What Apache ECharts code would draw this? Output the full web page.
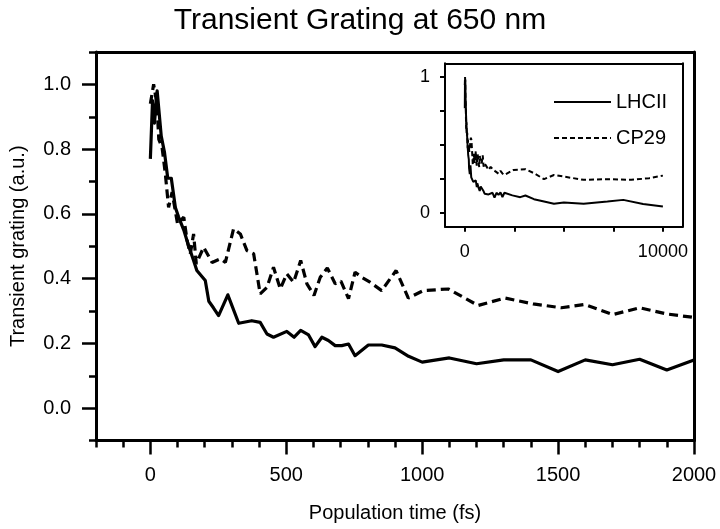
<!DOCTYPE html>
<html>
<head>
<meta charset="utf-8">
<script src="https://cdn.jsdelivr.net/npm/echarts@6/dist/echarts.min.js"></script>
<style>html,body{margin:0;padding:0;background:#fff}#c{width:720px;height:529px}</style>
</head>
<body>
<div id="c"></div>
<script>
// ---- data ----
var title = 'Transient Grating at 650 nm';
var xName = 'Population time (fs)';
var yName = 'Transient grating (a.u.)';
var seriesNames = ['LHCII', 'CP29'];

// main panel, LHCII (solid)
var lhciiT = [0, 8, 15, 25, 40, 52, 64, 77, 92, 104, 123, 141, 159, 171, 202, 215, 232, 251, 285, 325, 373, 404, 429, 453, 502, 529, 553, 582, 606, 631, 655, 680, 704, 729, 753, 802, 851, 900, 950, 1000, 1100, 1200, 1300, 1400, 1500, 1600, 1700, 1800, 1900, 2000];
var lhciiV = [0.77, 0.95, 0.88, 0.98, 0.84, 0.79, 0.71, 0.71, 0.62, 0.59, 0.55, 0.50, 0.456, 0.425, 0.394, 0.33, 0.31, 0.286, 0.35, 0.262, 0.27, 0.265, 0.229, 0.219, 0.237, 0.219, 0.24, 0.226, 0.19, 0.219, 0.209, 0.193, 0.193, 0.198, 0.162, 0.195, 0.195, 0.186, 0.16, 0.142, 0.155, 0.137, 0.149, 0.149, 0.113, 0.149, 0.134, 0.151, 0.118, 0.149];

// main panel, CP29 (dashed)
var cp29T = [0, 12, 24, 31, 43, 55, 67, 80, 100, 123, 135, 147, 159, 169, 196, 227, 257, 276, 306, 331, 355, 380, 404, 429, 453, 478, 502, 527, 553, 576, 602, 625, 651, 680, 701, 729, 753, 778, 808, 851, 904, 949, 1004, 1096, 1206, 1304, 1408, 1512, 1598, 1702, 1800, 1898, 2000];
var cp29V = [0.94, 1.0, 0.94, 0.83, 0.806, 0.724, 0.62, 0.667, 0.569, 0.59, 0.518, 0.477, 0.538, 0.446, 0.497, 0.45, 0.461, 0.45, 0.554, 0.538, 0.487, 0.477, 0.353, 0.373, 0.435, 0.368, 0.415, 0.389, 0.456, 0.384, 0.348, 0.404, 0.433, 0.384, 0.392, 0.338, 0.42, 0.404, 0.389, 0.363, 0.425, 0.34, 0.363, 0.368, 0.317, 0.34, 0.322, 0.31, 0.32, 0.289, 0.31, 0.291, 0.28];

// inset, long-time tail beyond 2000 fs
var lhciiLongT = [2400, 2800, 3060, 3490, 4000, 4500, 5000, 6000, 7200, 8000, 9000, 10000];
var lhciiLongV = [0.13, 0.117, 0.129, 0.102, 0.085, 0.068, 0.078, 0.068, 0.085, 0.097, 0.066, 0.048];
var cp29LongT = [2460, 3060, 3490, 4000, 4500, 5000, 6000, 7200, 8400, 9300, 10000];
var cp29LongV = [0.317, 0.322, 0.293, 0.249, 0.28, 0.268, 0.244, 0.249, 0.244, 0.256, 0.275];

// axis tick values
var mainXMajor = [0, 500, 1000, 1500, 2000];
var mainXMinor = [-200, -100, 100, 200, 300, 400, 600, 700, 800, 900, 1100, 1200, 1300, 1400, 1600, 1700, 1800, 1900];
var mainYMajor = [0.0, 0.2, 0.4, 0.6, 0.8, 1.0];
var mainYMinor = [-0.1, 0.1, 0.3, 0.5, 0.7, 0.9, 1.1];
var insetXTicks = [0, 2500, 5000, 7500, 10000];
var insetXLabels = [0, 10000];
var insetYTicks = [0, 0.25, 0.5, 0.75, 1];
var insetYLabels = [0, 1];

function pairs(t, v) { return t.map(function (x, i) { return [x, v[i]]; }); }

var mainL = pairs(lhciiT, lhciiV);
var mainC = pairs(cp29T, cp29V);
var insetL = mainL.concat(pairs(lhciiLongT, lhciiLongV));
var insetC = mainC.concat(pairs(cp29LongT, cp29LongV));

var FONT = 'Liberation Sans';
var black = '#000';

var xMin = -200, xMax = 2000, yMin = -0.1, yMax = 1.1;
var ixMin = -1000, ixMax = 11000;

function ax(extra) {
  return Object.assign({
    type: 'value', splitLine: {show: false},
    axisTick: {show: false}, axisLabel: {show: false},
    axisLine: {show: false, onZero: false}
  }, extra);
}
function line(w) { return {show: true, onZero: false, lineStyle: {color: black, width: w}}; }
function ticks(vals, len, w) { return {show: true, customValues: vals, length: len, lineStyle: {color: black, width: w}}; }

var chart = echarts.init(document.getElementById('c'), null, {renderer: 'canvas'});
chart.setOption({
  backgroundColor: '#fff',
  animation: false,
  title: {
    text: title, left: 'center', top: 1,
    textStyle: {fontFamily: FONT, fontSize: 30, fontWeight: 'normal', color: black}
  },
  legend: {
    data: seriesNames,
    orient: 'vertical', left: 548, top: 87,
    itemWidth: 57, itemHeight: 14, itemGap: 16,
    itemStyle: {opacity: 0},
    textStyle: {fontFamily: FONT, fontSize: 20, color: black},
    selectedMode: false
  },
  grid: [
    {left: 95, right: 26, top: 52, bottom: 88.5},
    {left: 445, right: 37.3, top: 63.3, bottom: 302.3}
  ],
  xAxis: [
    ax({gridIndex: 0, position: 'bottom', min: xMin, max: xMax, axisLine: line(3),
      axisTick: ticks(mainXMinor, 7, 2.5),
      name: xName, nameLocation: 'middle', nameGap: 63,
      nameTextStyle: {fontFamily: FONT, fontSize: 20, color: black}}),
    ax({gridIndex: 0, position: 'top', min: xMin, max: xMax, axisLine: line(3)}),
    ax({gridIndex: 0, position: 'bottom', min: xMin, max: xMax,
      axisTick: ticks(mainXMajor, 14, 2.5),
      axisLabel: {show: true, customValues: mainXMajor, margin: 25, fontFamily: FONT, fontSize: 20, color: black,
        formatter: function (v) { return String(v); }}}),
    ax({gridIndex: 1, position: 'bottom', min: ixMin, max: ixMax, axisLine: line(2),
      axisTick: ticks(insetXTicks, 5, 2),
      axisLabel: {show: true, customValues: insetXLabels, margin: 16, fontFamily: FONT, fontSize: 18, color: black,
        formatter: function (v) { return String(v); }}}),
    ax({gridIndex: 1, position: 'top', min: ixMin, max: ixMax, axisLine: line(2)})
  ],
  yAxis: [
    ax({gridIndex: 0, position: 'left', min: yMin, max: yMax, axisLine: line(3),
      axisTick: ticks(mainYMinor, 7, 2.5),
      name: yName, nameLocation: 'middle', nameGap: 68,
      nameTextStyle: {fontFamily: FONT, fontSize: 20, color: black}}),
    ax({gridIndex: 0, position: 'right', min: yMin, max: yMax, axisLine: line(3)}),
    ax({gridIndex: 0, position: 'left', min: yMin, max: yMax,
      axisTick: ticks(mainYMajor, 14, 2.5),
      axisLabel: {show: true, customValues: mainYMajor, margin: 25, fontFamily: FONT, fontSize: 20, color: black,
        formatter: function (v) { return v.toFixed(1); }}}),
    ax({gridIndex: 1, position: 'left', min: yMin, max: yMax, axisLine: line(2),
      axisTick: ticks(insetYTicks, 5, 2),
      axisLabel: {show: true, customValues: insetYLabels, margin: 15, fontFamily: FONT, fontSize: 18, color: black,
        formatter: function (v) { return String(v); }}}),
    ax({gridIndex: 1, position: 'right', min: yMin, max: yMax, axisLine: line(2)})
  ],
  series: [
    {name: seriesNames[0], type: 'line', xAxisIndex: 3, yAxisIndex: 3, data: insetL,
      symbol: 'none', lineStyle: {color: black, width: 2, type: 'solid'}, itemStyle: {color: black}},
    {name: seriesNames[1], type: 'line', xAxisIndex: 3, yAxisIndex: 3, data: insetC,
      symbol: 'none', lineStyle: {color: black, width: 2, type: [5, 3]}, itemStyle: {color: black}},
    {name: seriesNames[0], type: 'line', xAxisIndex: 0, yAxisIndex: 0, data: mainL,
      symbol: 'none', lineStyle: {color: black, width: 3.2, type: 'solid', join: 'round'}, itemStyle: {color: black}},
    {name: seriesNames[1], type: 'line', xAxisIndex: 0, yAxisIndex: 0, data: mainC,
      symbol: 'none', lineStyle: {color: black, width: 3.2, type: [9, 5]}, itemStyle: {color: black}}
  ]
});
</script>
</body>
</html>
